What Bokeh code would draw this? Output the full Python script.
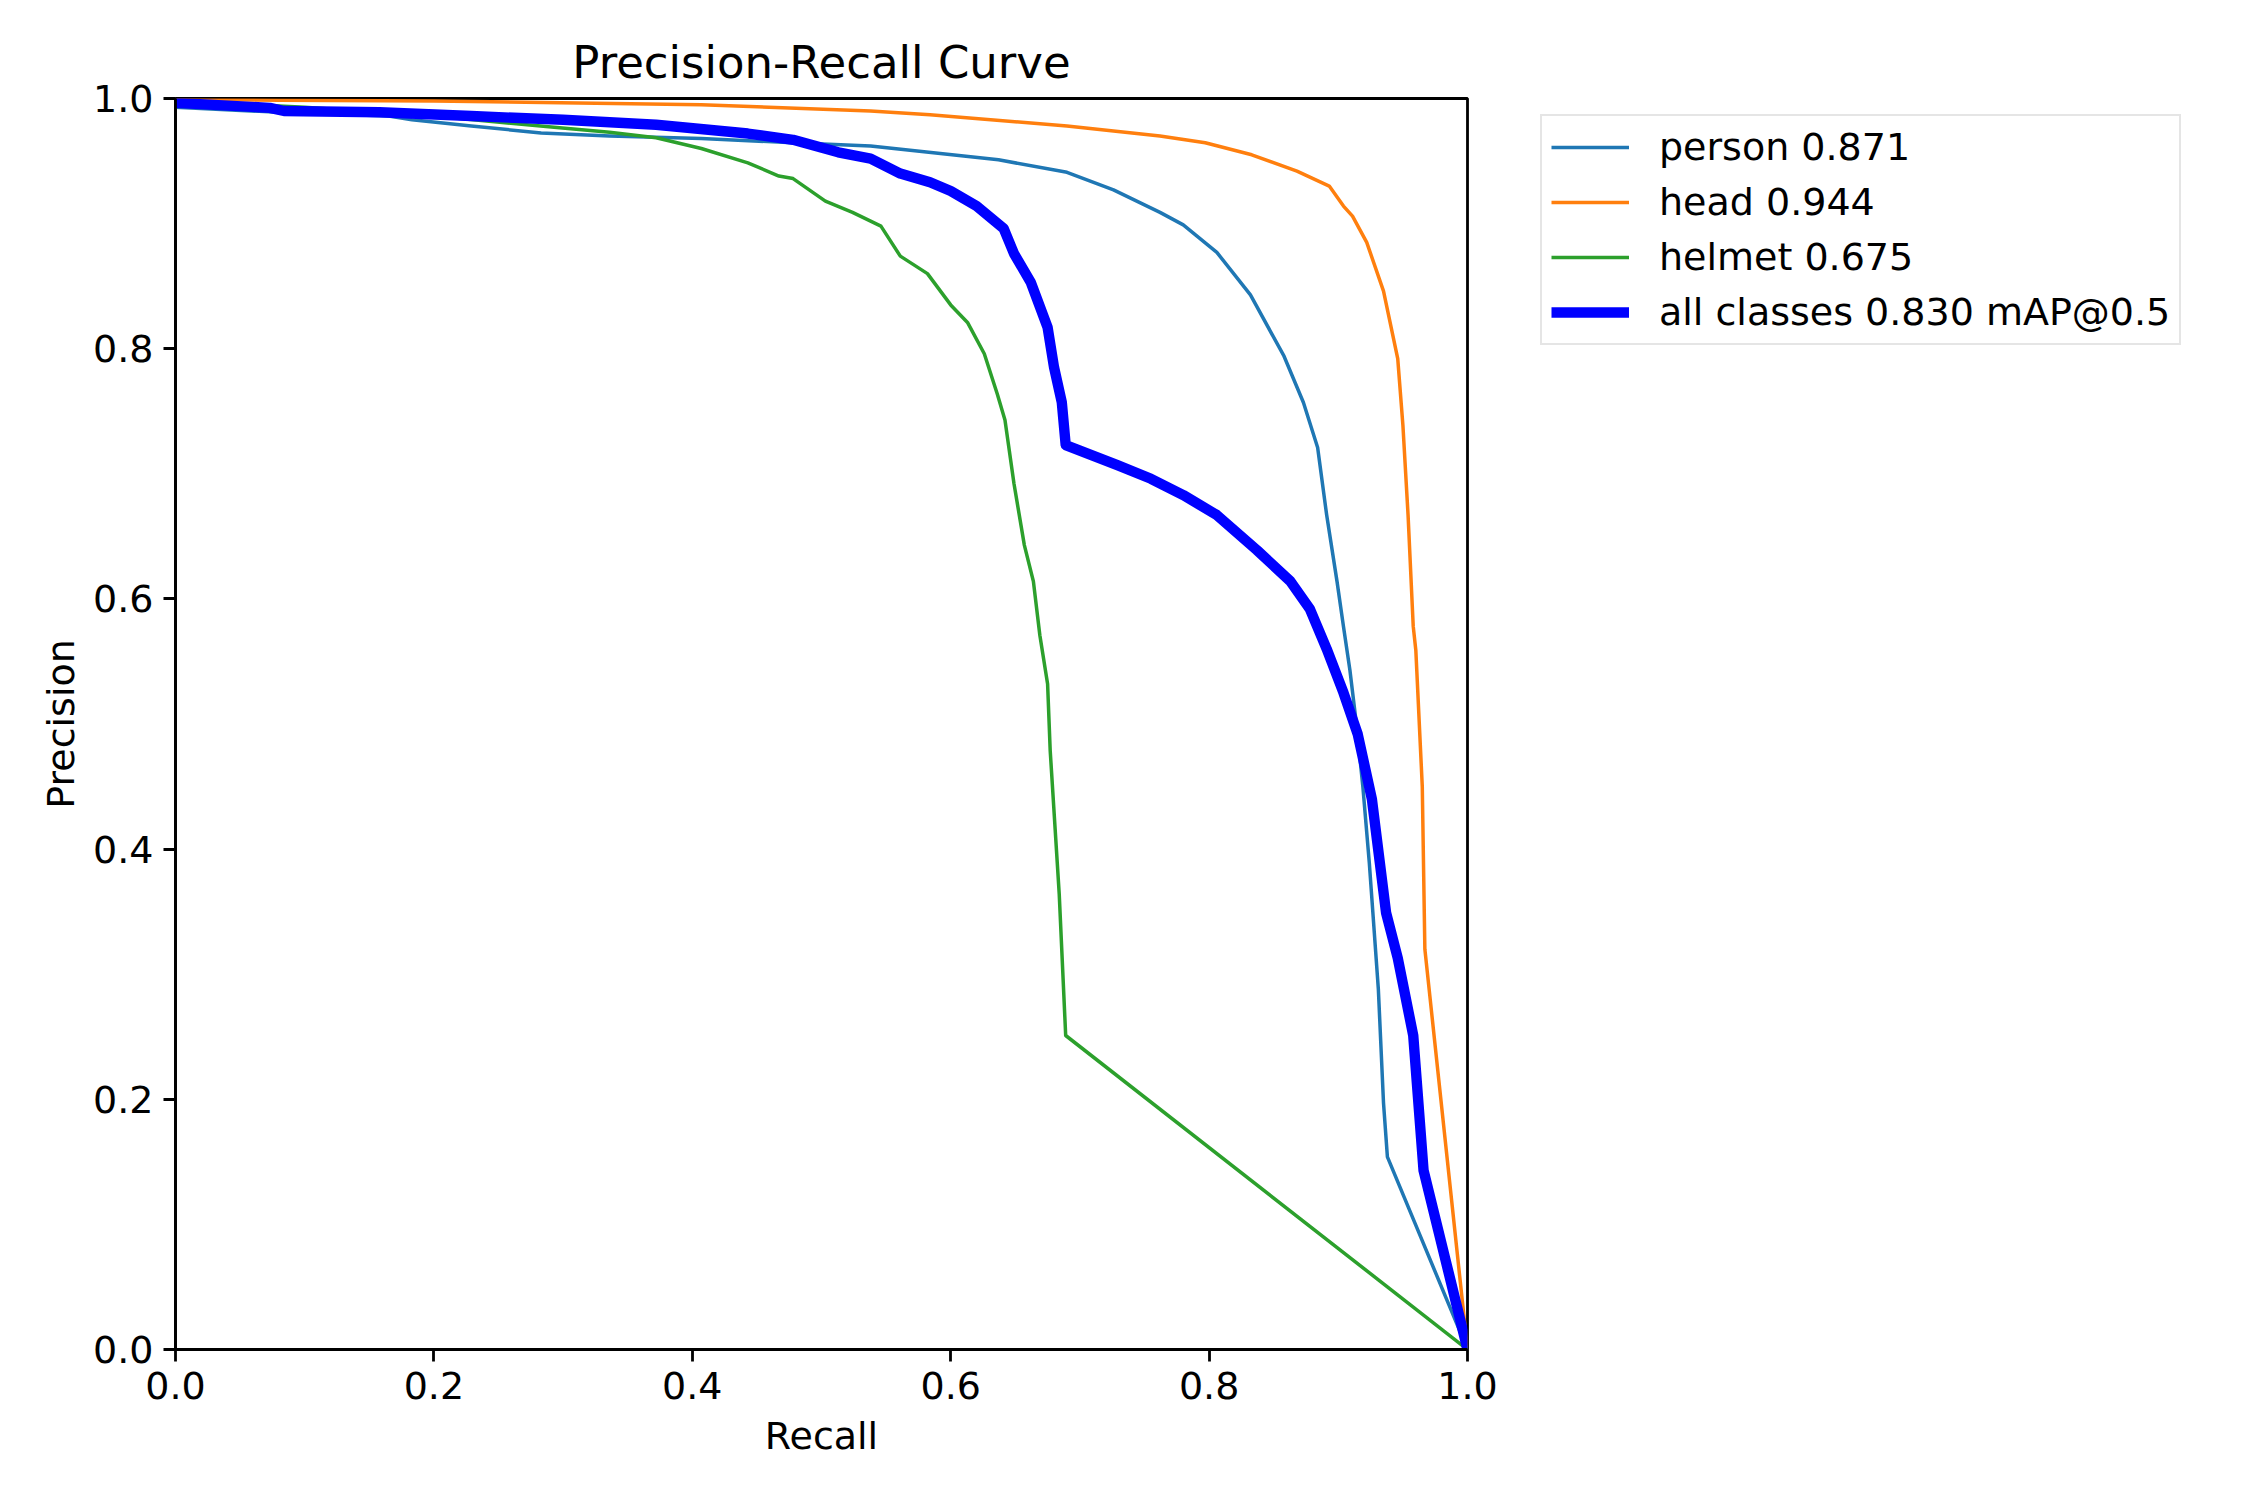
from bokeh.plotting import figure
from bokeh.models import Legend, LegendItem, FixedTicker, Range1d
from bokeh.embed import file_html
from bokeh.resources import INLINE

# ---------------- data ----------------
person_recall = [0.0, 0.08, 0.165, 0.183, 0.229, 0.283, 0.336, 0.407, 0.478, 0.538,
                 0.637, 0.69, 0.726, 0.762, 0.78, 0.806, 0.832, 0.858, 0.873, 0.884,
                 0.891, 0.899, 0.904, 0.909, 0.914, 0.919, 0.924, 0.931, 0.935, 0.938, 1.0]
person_precision = [0.993, 0.989, 0.986, 0.983, 0.978, 0.9725, 0.970, 0.968, 0.9646, 0.962,
                    0.951, 0.941, 0.927, 0.909, 0.899, 0.877, 0.843, 0.794, 0.757, 0.721,
                    0.667, 0.614, 0.578, 0.543, 0.500, 0.45, 0.389, 0.288, 0.197, 0.154, 0.0]

head_recall = [0.0, 0.08, 0.2, 0.407, 0.538, 0.584, 0.69, 0.762, 0.797, 0.833, 0.868,
               0.893, 0.904, 0.911, 0.922, 0.935, 0.946, 0.950, 0.954, 0.958, 0.960,
               0.965, 0.967, 1.0]
head_precision = [0.999, 0.9987, 0.998, 0.995, 0.990, 0.987, 0.978, 0.970, 0.9646, 0.955,
                  0.942, 0.930, 0.914, 0.906, 0.885, 0.846, 0.792, 0.739, 0.667, 0.578,
                  0.559, 0.45, 0.32, 0.0]

helmet_recall = [0.0, 0.1, 0.2, 0.293, 0.336, 0.372, 0.407, 0.443, 0.467, 0.478, 0.503,
                 0.524, 0.546, 0.561, 0.582, 0.600, 0.613, 0.626, 0.636, 0.642, 0.649,
                 0.657, 0.664, 0.669, 0.675, 0.677, 0.684, 0.689, 1.0]
helmet_precision = [0.998, 0.993, 0.986, 0.977, 0.973, 0.9686, 0.960, 0.9486, 0.938, 0.936,
                    0.918, 0.909, 0.898, 0.874, 0.860, 0.835, 0.821, 0.796, 0.764, 0.743,
                    0.692, 0.643, 0.614, 0.571, 0.532, 0.479, 0.364, 0.251, 0.0]

all_recall = [0.0, 0.073, 0.084, 0.158, 0.229, 0.300, 0.372, 0.443, 0.478, 0.513, 0.538,
              0.561, 0.584, 0.600, 0.620, 0.641, 0.649, 0.662, 0.675, 0.680, 0.686, 0.689,
              0.729, 0.755, 0.780, 0.806, 0.837, 0.863, 0.878, 0.891, 0.904, 0.915, 0.926,
              0.937, 0.946, 0.958, 0.966, 1.0]
all_precision = [0.9965, 0.9925, 0.990, 0.989, 0.986, 0.983, 0.979, 0.972, 0.967, 0.957, 0.952,
                 0.940, 0.933, 0.926, 0.914, 0.896, 0.876, 0.853, 0.817, 0.785, 0.757, 0.723,
                 0.707, 0.696, 0.683, 0.667, 0.639, 0.614, 0.592, 0.560, 0.525, 0.492, 0.44,
                 0.349, 0.313, 0.251, 0.143, 0.0]

series_labels = ["person 0.871", "head 0.944", "helmet 0.675", "all classes 0.830 mAP@0.5"]
tick_values = [0.0, 0.2, 0.4, 0.6, 0.8, 1.0]
tick_labels = ["0.0", "0.2", "0.4", "0.6", "0.8", "1.0"]

# ---------------- figure ----------------
FONT = "DejaVu Sans"
p = figure(frame_width=1292, frame_height=1251,
           min_border_left=175, min_border_right=767,
           min_border_top=98, min_border_bottom=135,
           x_range=Range1d(0, 1), y_range=Range1d(0, 1),
           output_backend="svg", toolbar_location=None,
           title="Precision-Recall Curve")
p.background_fill_color = "white"
p.border_fill_color = "white"
p.outline_line_color = "black"
p.outline_line_width = 2.8
p.xgrid.visible = False
p.ygrid.visible = False

p.title.text_font = FONT
p.title.text_font_size = "45px"
p.title.text_font_style = "normal"
p.title.text_color = "black"
p.title.align = "center"
p.title.standoff = 20

for ax, lab in ((p.xaxis[0], "Recall"), (p.yaxis[0], "Precision")):
    ax.ticker = FixedTicker(ticks=tick_values)
    ax.major_label_overrides = {v: s for v, s in zip(tick_values, tick_labels)}
    ax.axis_label = lab
    ax.axis_label_text_font = FONT
    ax.axis_label_text_font_size = "38px"
    ax.axis_label_text_font_style = "normal"
    ax.axis_label_text_color = "black"
    ax.major_label_text_font = FONT
    ax.major_label_text_font_size = "38px"
    ax.major_label_text_color = "black"
    ax.major_label_standoff = 10
    ax.major_tick_out = 12
    ax.major_tick_in = 0
    ax.major_tick_line_width = 2.8
    ax.major_tick_line_color = "black"
    ax.minor_tick_line_color = None
    ax.axis_line_width = 2.8
    ax.axis_line_color = "black"
p.xaxis[0].axis_label_standoff = 12
p.yaxis[0].axis_label_standoff = 7

thin = 3.5
r_person = p.line(person_recall, person_precision, line_color="#1f77b4", line_width=thin,
                  line_join="round")
r_head = p.line(head_recall, head_precision, line_color="#ff7f0e", line_width=thin,
                line_join="round")
r_helmet = p.line(helmet_recall, helmet_precision, line_color="#2ca02c", line_width=thin,
                  line_join="round")
r_all = p.line(all_recall, all_precision, line_color="blue", line_width=10.4,
               line_join="round")

legend = Legend(items=[LegendItem(label=series_labels[0], renderers=[r_person]),
                       LegendItem(label=series_labels[1], renderers=[r_head]),
                       LegendItem(label=series_labels[2], renderers=[r_helmet]),
                       LegendItem(label=series_labels[3], renderers=[r_all])],
                location=(73, 1004))
legend.label_text_font = FONT
legend.label_text_font_size = "38px"
legend.label_text_color = "black"
legend.label_height = 36
legend.glyph_height = 36
legend.glyph_width = 78
legend.label_standoff = 30
legend.spacing = 11
legend.padding = 9
legend.margin = 0
legend.border_line_color = "#cccccc"
legend.border_line_width = 2.8
legend.background_fill_color = "white"
legend.background_fill_alpha = 0.8
p.add_layout(legend, "right")

open("out.html", "w").write(file_html(p, INLINE))
